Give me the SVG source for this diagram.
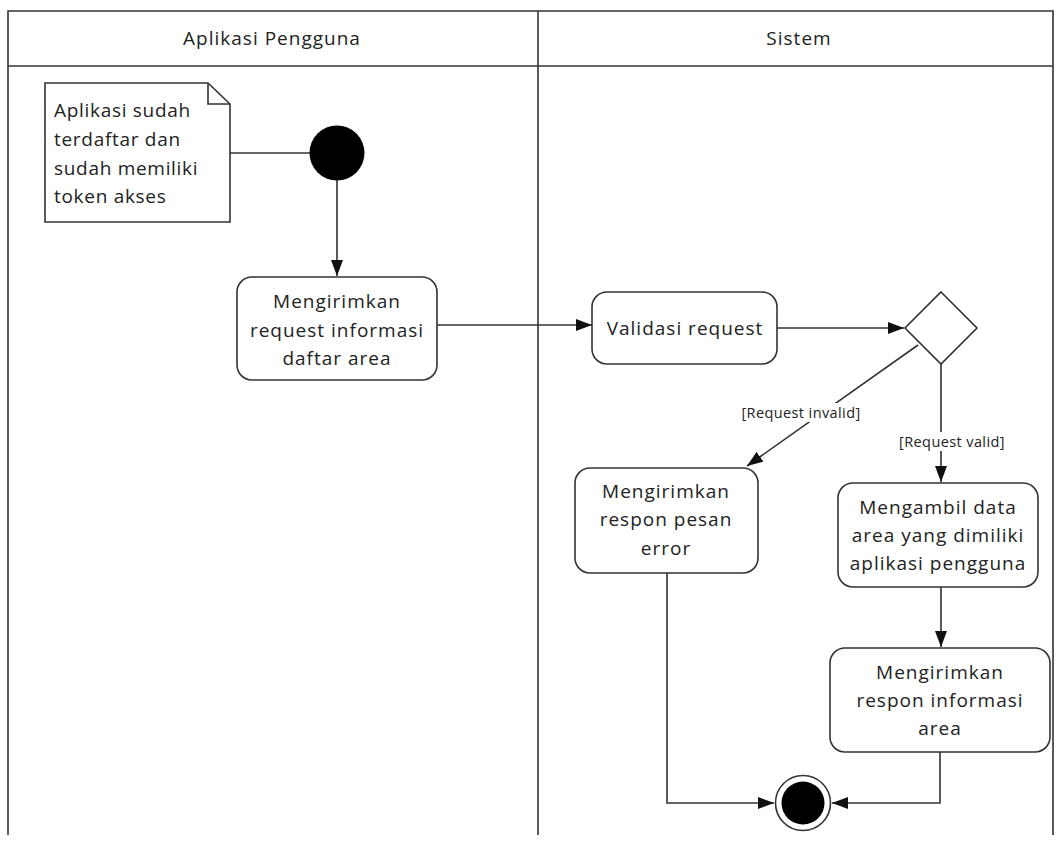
<svg xmlns="http://www.w3.org/2000/svg" width="1059" height="847" viewBox="0 0 1059 847">
<style>
.ln{stroke:#333;stroke-width:1.6;fill:none}
.box{fill:#fff;stroke:#333;stroke-width:1.6}
.t{font-family:"Open Sans","Noto Sans",sans-serif;font-size:19px;letter-spacing:1px;fill:#222;text-anchor:middle}
.tl{font-family:"Open Sans","Noto Sans",sans-serif;font-size:19px;letter-spacing:0.7px;fill:#222}
.s{font-family:"Open Sans","Noto Sans",sans-serif;font-size:14.5px;fill:#222;text-anchor:middle;letter-spacing:0.4px}
</style>
<defs>
<marker id="arB" viewBox="0 0 16 12" refX="16" refY="6" markerWidth="16" markerHeight="12" markerUnits="userSpaceOnUse" orient="auto">
<path d="M0,0 L16,6 L0,12 Z" fill="#111"/>
</marker>
</defs>
<rect width="1059" height="847" fill="#fff"/>
<g id="lanes">
<polyline points="8,835 8,11 1053,11 1053,835" class="ln"/>
<line x1="8" y1="66" x2="1053" y2="66" class="ln"/>
<line x1="538" y1="11" x2="538" y2="835" class="ln"/>
<text class="t" x="272" y="45">Aplikasi Pengguna</text>
<text class="t" x="799" y="45">Sistem</text>
</g>
<g id="connectors">
<line x1="230" y1="153" x2="312" y2="153" class="ln"/>
<line x1="337" y1="180" x2="337" y2="276" class="ln" marker-end="url(#arB)"/>
<line x1="437" y1="325" x2="592" y2="325" class="ln" marker-end="url(#arB)"/>
<line x1="777" y1="328" x2="904" y2="328" class="ln" marker-end="url(#arB)"/>
<line x1="918" y1="345" x2="747" y2="466" class="ln" marker-end="url(#arB)"/>
<rect x="738" y="403" width="126" height="19" fill="#fff"/>
<text class="s" x="801" y="418">[Request invalid]</text>
<line x1="941" y1="363" x2="941" y2="482" class="ln" marker-end="url(#arB)"/>
<rect x="895" y="432" width="114" height="19" fill="#fff"/>
<text class="s" x="952" y="447">[Request valid]</text>
<line x1="941" y1="587" x2="941" y2="647" class="ln" marker-end="url(#arB)"/>
<polyline points="667,573 667,803 774,803" class="ln" marker-end="url(#arB)"/>
<polyline points="940,752 940,803 832,803" class="ln" marker-end="url(#arB)"/>
</g>
<g id="note">
<path d="M45,83 L208,83 L230,104 L230,222 L45,222 Z" class="box"/>
<path d="M208,83 L208,104 L230,104" class="ln" stroke-width="1.2"/>
<text class="tl" x="54" y="117">Aplikasi sudah</text>
<text class="tl" x="54" y="146">terdaftar dan</text>
<text class="tl" x="54" y="175">sudah memiliki</text>
<text class="tl" x="54" y="203">token akses</text>
</g>
<g id="start">
<circle cx="337" cy="153" r="27.5" fill="#000"/>
</g>
<g id="a1">
<rect x="237" y="277" width="200" height="103" rx="15" class="box"/>
<text class="t" x="337" y="308">Mengirimkan</text>
<text class="t" x="337" y="337">request informasi</text>
<text class="t" x="337" y="365">daftar area</text>
</g>
<g id="a2">
<rect x="592" y="292" width="185" height="72" rx="15" class="box"/>
<text class="t" x="685" y="335">Validasi request</text>
</g>
<g id="decision">
<path d="M941,292 L977,328 L941,364 L905,328 Z" class="box"/>
</g>
<g id="a3">
<rect x="575" y="468" width="183" height="105" rx="15" class="box"/>
<text class="t" x="666" y="498">Mengirimkan</text>
<text class="t" x="666" y="526">respon pesan</text>
<text class="t" x="666" y="555">error</text>
</g>
<g id="a4">
<rect x="838" y="483" width="200" height="104" rx="15" class="box"/>
<text class="t" x="938" y="514">Mengambil data</text>
<text class="t" x="938" y="542">area yang dimiliki</text>
<text class="t" x="938" y="570">aplikasi pengguna</text>
</g>
<g id="a5">
<rect x="830" y="648" width="220" height="104" rx="15" class="box"/>
<text class="t" x="940" y="679">Mengirimkan</text>
<text class="t" x="940" y="707">respon informasi</text>
<text class="t" x="940" y="735">area</text>
</g>
<g id="end">
<circle cx="803" cy="803" r="27.5" fill="#fff" stroke="#333" stroke-width="1.6"/>
<circle cx="803" cy="803" r="21.5" fill="#000"/>
</g>
</svg>
